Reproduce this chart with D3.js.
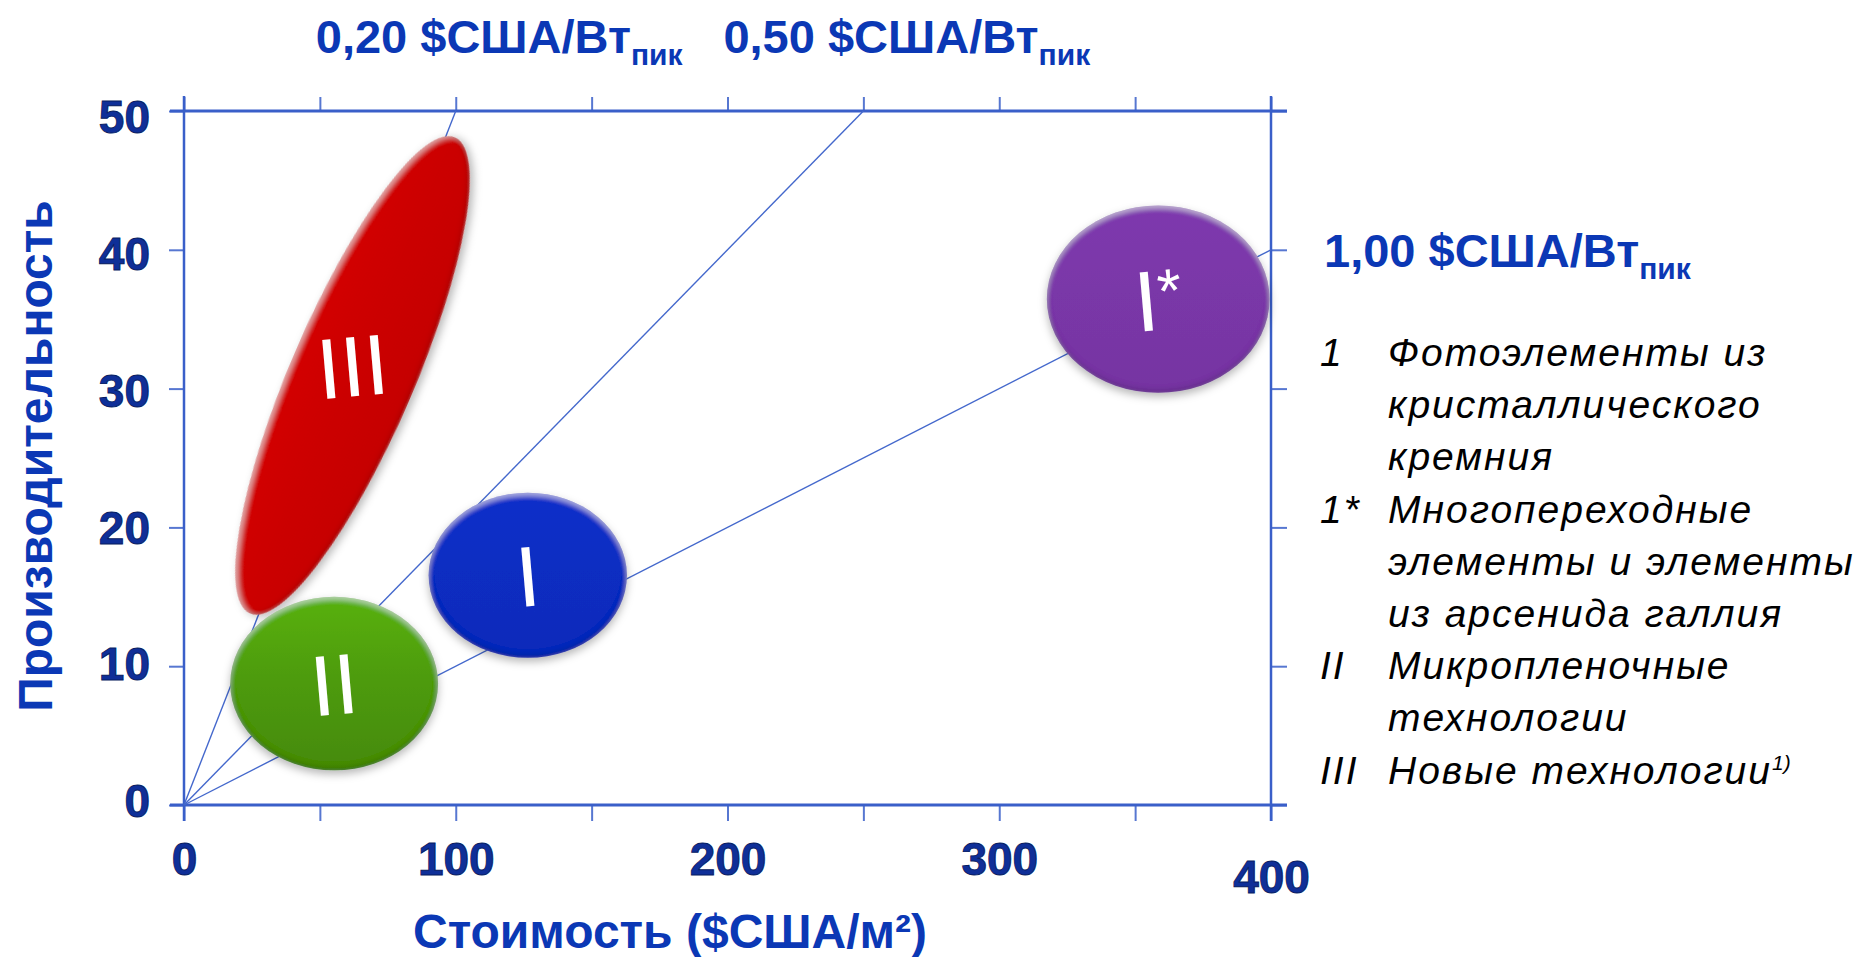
<!DOCTYPE html>
<html lang="ru">
<head>
<meta charset="utf-8">
<title>Стоимость и производительность фотоэлементов</title>
<script src="https://cdn.jsdelivr.net/npm/d3@7"></script>
<style>
  html, body { margin: 0; padding: 0; background: #ffffff; }
  svg { display: block; }
</style>
</head>
<body>
<svg id="chart" width="1862" height="957"></svg>
<script>
// ---- data -------------------------------------------------------------
// axis ticks
const costTicks = [0, 50, 100, 150, 200, 250, 300, 350, 400];
const costLabelTicks = [0, 100, 200, 300, 400];
const perfTicks = [0, 10, 20, 30, 40, 50];

// constant price-per-peak-watt rays from the origin
const priceLabels = ["0,20", "0,50", "1,00"];
const rayEndCost = [100, 250, 400];
const rayEndPerf = [50, 50, 40];

// technology groups (cost in $/m², performance)
const groupIds = ["III", "II", "I", "I*"];
const groupCostLow = [24.3, 17.0, 90.0, 317.5];
const groupCostHigh = [99.7, 93.5, 163.0, 399.5];
const groupPerfLow = [13.8, 2.5, 10.6, 29.7];
const groupPerfHigh = [48.1, 15.0, 22.5, 43.2];
// III spans a diagonal band: low/high are the ends of its long axis,
// the spread is its half-width in cost units
const groupSpread = [22.8, 0, 0, 0];
const groupColors = ["#cc0505", "#4e9c0d", "#0a2dc2", "#7a37a8"];
const groupShading = [0.1, 0.35, 0.12, 0.1];

// legend
const legendKeys = ["1", "1*", "II", "III"];
const legendTexts = [
  ["Фотоэлементы из", "кристаллического", "кремния"],
  ["Многопереходные", "элементы и элементы", "из арсенида галлия"],
  ["Микропленочные", "технологии"],
  ["Новые технологии"]
];
const legendNote = "1)";

const xTitle = "Стоимость ($США/м²)";
const yTitle = "Производительность";
const priceUnit = "$США/Вт";
const priceSub = "пик";

// ---- layout -------------------------------------------------------------
const svg = d3.select("#chart");
const FONT = "'Liberation Sans', Arial, sans-serif";
const AXIS = "#3a5fc9";
const TITLE = "#0b38b5";
const TICKTXT = "#0f2f98";

const x = d3.scaleLinear().domain([0, 400]).range([184, 1271]);
const y = d3.scaleLinear().domain([0, 50]).range([805, 111]);
// the value labels of the vertical axis sit on a slightly tighter pitch
const yLab = d3.scaleLinear().domain([0, 50]).range([802, 118]);

// ---- defs: gloss gradients and bevel/shadow filter ------------------------
const defs = svg.append("defs");
groupColors.forEach((c, i) => {
  const k = groupShading[i];
  const g = defs.append("linearGradient")
    .attr("id", "fill" + i).attr("x1", 0).attr("y1", 0).attr("x2", 0).attr("y2", 1);
  g.append("stop").attr("offset", "0%").attr("stop-color", d3.color(c).brighter(k));
  g.append("stop").attr("offset", "45%").attr("stop-color", c);
  g.append("stop").attr("offset", "100%").attr("stop-color", d3.color(c).darker(k));
});

const f = defs.append("filter").attr("id", "bevel")
  .attr("x", "-20%").attr("y", "-20%").attr("width", "140%").attr("height", "150%");
f.append("feGaussianBlur").attr("in", "SourceAlpha").attr("stdDeviation", 2.5).attr("result", "blur");
f.append("feOffset").attr("in", "blur").attr("dy", 3).attr("result", "blurDown");
f.append("feComposite").attr("in", "SourceAlpha").attr("in2", "blurDown").attr("operator", "out").attr("result", "topRim");
f.append("feFlood").attr("flood-color", "#ffffff").attr("flood-opacity", 0.4).attr("result", "white");
f.append("feComposite").attr("in", "white").attr("in2", "topRim").attr("operator", "in").attr("result", "light");
f.append("feOffset").attr("in", "blur").attr("dy", -3).attr("result", "blurUp");
f.append("feComposite").attr("in", "SourceAlpha").attr("in2", "blurUp").attr("operator", "out").attr("result", "bottomRim");
f.append("feFlood").attr("flood-color", "#000000").attr("flood-opacity", 0.28).attr("result", "black");
f.append("feComposite").attr("in", "black").attr("in2", "bottomRim").attr("operator", "in").attr("result", "shade");
f.append("feGaussianBlur").attr("in", "SourceAlpha").attr("stdDeviation", 4).attr("result", "sblur");
f.append("feOffset").attr("in", "sblur").attr("dy", 4).attr("result", "soff");
f.append("feFlood").attr("flood-color", "#000000").attr("flood-opacity", 0.28).attr("result", "sc");
f.append("feComposite").attr("in", "sc").attr("in2", "soff").attr("operator", "in").attr("result", "shadow");
const m = f.append("feMerge");
m.append("feMergeNode").attr("in", "shadow");
m.append("feMergeNode").attr("in", "SourceGraphic");
m.append("feMergeNode").attr("in", "light");
m.append("feMergeNode").attr("in", "shade");

// ---- axes frame -------------------------------------------------------------
const frame = svg.append("g").attr("stroke", AXIS).attr("fill", "none");
const x0 = x(0), x1 = x(400), yb = y(0), yt = y(50);

const styleAxis = g => {
  g.select(".domain").remove();
  g.selectAll(".tick line").attr("stroke", AXIS).attr("stroke-width", 2).attr("opacity", 0.85);
};

svg.append("g").attr("transform", `translate(0,${yb})`)
  .call(d3.axisBottom(x).tickValues(costTicks).tickSize(16).tickPadding(21)
    .tickFormat(d => costLabelTicks.includes(d) ? String(d) : ""))
  .call(styleAxis)
  .call(g => g.selectAll(".tick text")
    .attr("font-family", FONT).attr("font-size", 46).attr("font-weight", "bold")
    .attr("fill", TICKTXT).attr("stroke", "#071d63").attr("stroke-width", 0.9)
    .attr("dy", d => d === 400 ? "1.1em" : "0.71em"));

svg.append("g").attr("transform", `translate(0,${yt})`)
  .call(d3.axisTop(x).tickValues(costTicks).tickSize(14).tickFormat(""))
  .call(styleAxis);

svg.append("g").attr("transform", `translate(${x0},0)`)
  .call(d3.axisLeft(y).tickValues(perfTicks).tickSize(15).tickPadding(19))
  .call(styleAxis)
  .call(g => g.selectAll(".tick text")
    .attr("y", d => yLab(d) - y(d))
    .attr("font-family", FONT).attr("font-size", 46).attr("font-weight", "bold")
    .attr("fill", TICKTXT).attr("stroke", "#071d63").attr("stroke-width", 0.9));

svg.append("g").attr("transform", `translate(${x1},0)`)
  .call(d3.axisRight(y).tickValues(perfTicks).tickSize(16).tickFormat(""))
  .call(styleAxis);

frame.append("line").attr("x1", x0 - 14).attr("x2", x1 + 16).attr("y1", yb).attr("y2", yb).attr("stroke-width", 3);
frame.append("line").attr("x1", x0 - 14).attr("x2", x1 + 16).attr("y1", yt).attr("y2", yt).attr("stroke-width", 3);
frame.append("line").attr("x1", x0).attr("x2", x0).attr("y1", yt - 15).attr("y2", yb + 16).attr("stroke-width", 2.5);
frame.append("line").attr("x1", x1).attr("x2", x1).attr("y1", yt - 15).attr("y2", yb + 16).attr("stroke-width", 2.5);

// ---- price rays -------------------------------------------------------------
const line = d3.line().x(d => x(d[0])).y(d => y(d[1]));
const rays = svg.append("g");
rayEndCost.forEach((c, i) => {
  rays.append("path")
    .attr("d", line([[0, 0], [c, rayEndPerf[i]]]))
    .attr("fill", "none").attr("stroke", "#4468cc").attr("stroke-width", 1.4);
});

// ray captions: above the frame where the ray meets the top, to the right otherwise
const caps = svg.append("g").attr("font-family", FONT).attr("font-weight", "bold").attr("fill", TITLE);
priceLabels.forEach((lab, i) => {
  const ex = x(rayEndCost[i]), ey = y(rayEndPerf[i]);
  const onTop = rayEndPerf[i] === 50;
  const t = caps.append("text")
    .attr("x", onTop ? ex - 140 : ex + 53)
    .attr("y", onTop ? ey - 58 : ey + 17)
    .attr("font-size", 47);
  t.append("tspan").text(lab + " " + priceUnit);
  t.append("tspan").attr("font-size", 30).attr("dy", 12).text(priceSub);
});

// ---- technology groups -------------------------------------------------------
const blobs = svg.append("g");
groupIds.forEach((id, i) => {
  let cx, cy, rx, ry, angle;
  if (groupSpread[i] > 0) {
    const ax = x(groupCostLow[i]), ay = y(groupPerfLow[i]);
    const bx = x(groupCostHigh[i]), by = y(groupPerfHigh[i]);
    cx = (ax + bx) / 2; cy = (ay + by) / 2;
    rx = Math.hypot(bx - ax, by - ay) / 2;
    ry = x(groupSpread[i]) - x(0);
    angle = Math.atan2(by - ay, bx - ax) * 180 / Math.PI;
  } else {
    cx = (x(groupCostLow[i]) + x(groupCostHigh[i])) / 2;
    cy = (y(groupPerfLow[i]) + y(groupPerfHigh[i])) / 2;
    rx = (x(groupCostHigh[i]) - x(groupCostLow[i])) / 2;
    ry = (y(groupPerfLow[i]) - y(groupPerfHigh[i])) / 2;
    angle = 0;
  }
  const g = blobs.append("g");
  g.append("ellipse")
    .attr("cx", 0).attr("cy", 0).attr("rx", rx).attr("ry", ry)
    .attr("transform", `translate(${cx},${cy}) rotate(${angle})`)
    .attr("fill", `url(#fill${i})`)
    .attr("filter", "url(#bevel)");
  const t = g.append("text")
    .attr("transform", `translate(${cx},${cy + (angle ? -10 : 0)}) rotate(-5)`)
    .attr("text-anchor", "middle").attr("dy", "0.36em")
    .attr("font-family", FONT).attr("font-size", 86).attr("fill", "#ffffff");
  if (id.endsWith("*")) {
    t.append("tspan").text(id.slice(0, -1));
    t.append("tspan").attr("font-size", 62).attr("dy", -17).text("*");
  } else {
    t.text(id);
  }
});

// ---- axis titles ---------------------------------------------------------------
svg.append("text")
  .attr("x", 670).attr("y", 948).attr("text-anchor", "middle")
  .attr("font-family", FONT).attr("font-weight", "bold").attr("font-size", 48)
  .attr("fill", TITLE).text(xTitle);

svg.append("text")
  .attr("transform", "translate(52,456) rotate(-90)").attr("text-anchor", "middle")
  .attr("font-family", FONT).attr("font-weight", "bold").attr("font-size", 48)
  .attr("fill", TITLE).text(yTitle);

// ---- legend ------------------------------------------------------------------------
const legend = svg.append("g").attr("font-family", FONT).attr("font-style", "italic")
  .attr("font-size", 39).attr("letter-spacing", 2).attr("fill", "#000000");
let row = 0;
const rowStep = 52.2, firstBase = 366;
legendKeys.forEach((k, i) => {
  legend.append("text").attr("x", 1320).attr("y", firstBase + row * rowStep).text(k);
  legendTexts[i].forEach((s, j) => {
    const t = legend.append("text").attr("x", 1388).attr("y", firstBase + (row + j) * rowStep).text(s);
    if (i === legendKeys.length - 1 && j === legendTexts[i].length - 1) {
      t.append("tspan").attr("font-size", 21).attr("letter-spacing", 0).attr("dy", -14).text(legendNote);
    }
  });
  row += legendTexts[i].length;
});
</script>
</body>
</html>
